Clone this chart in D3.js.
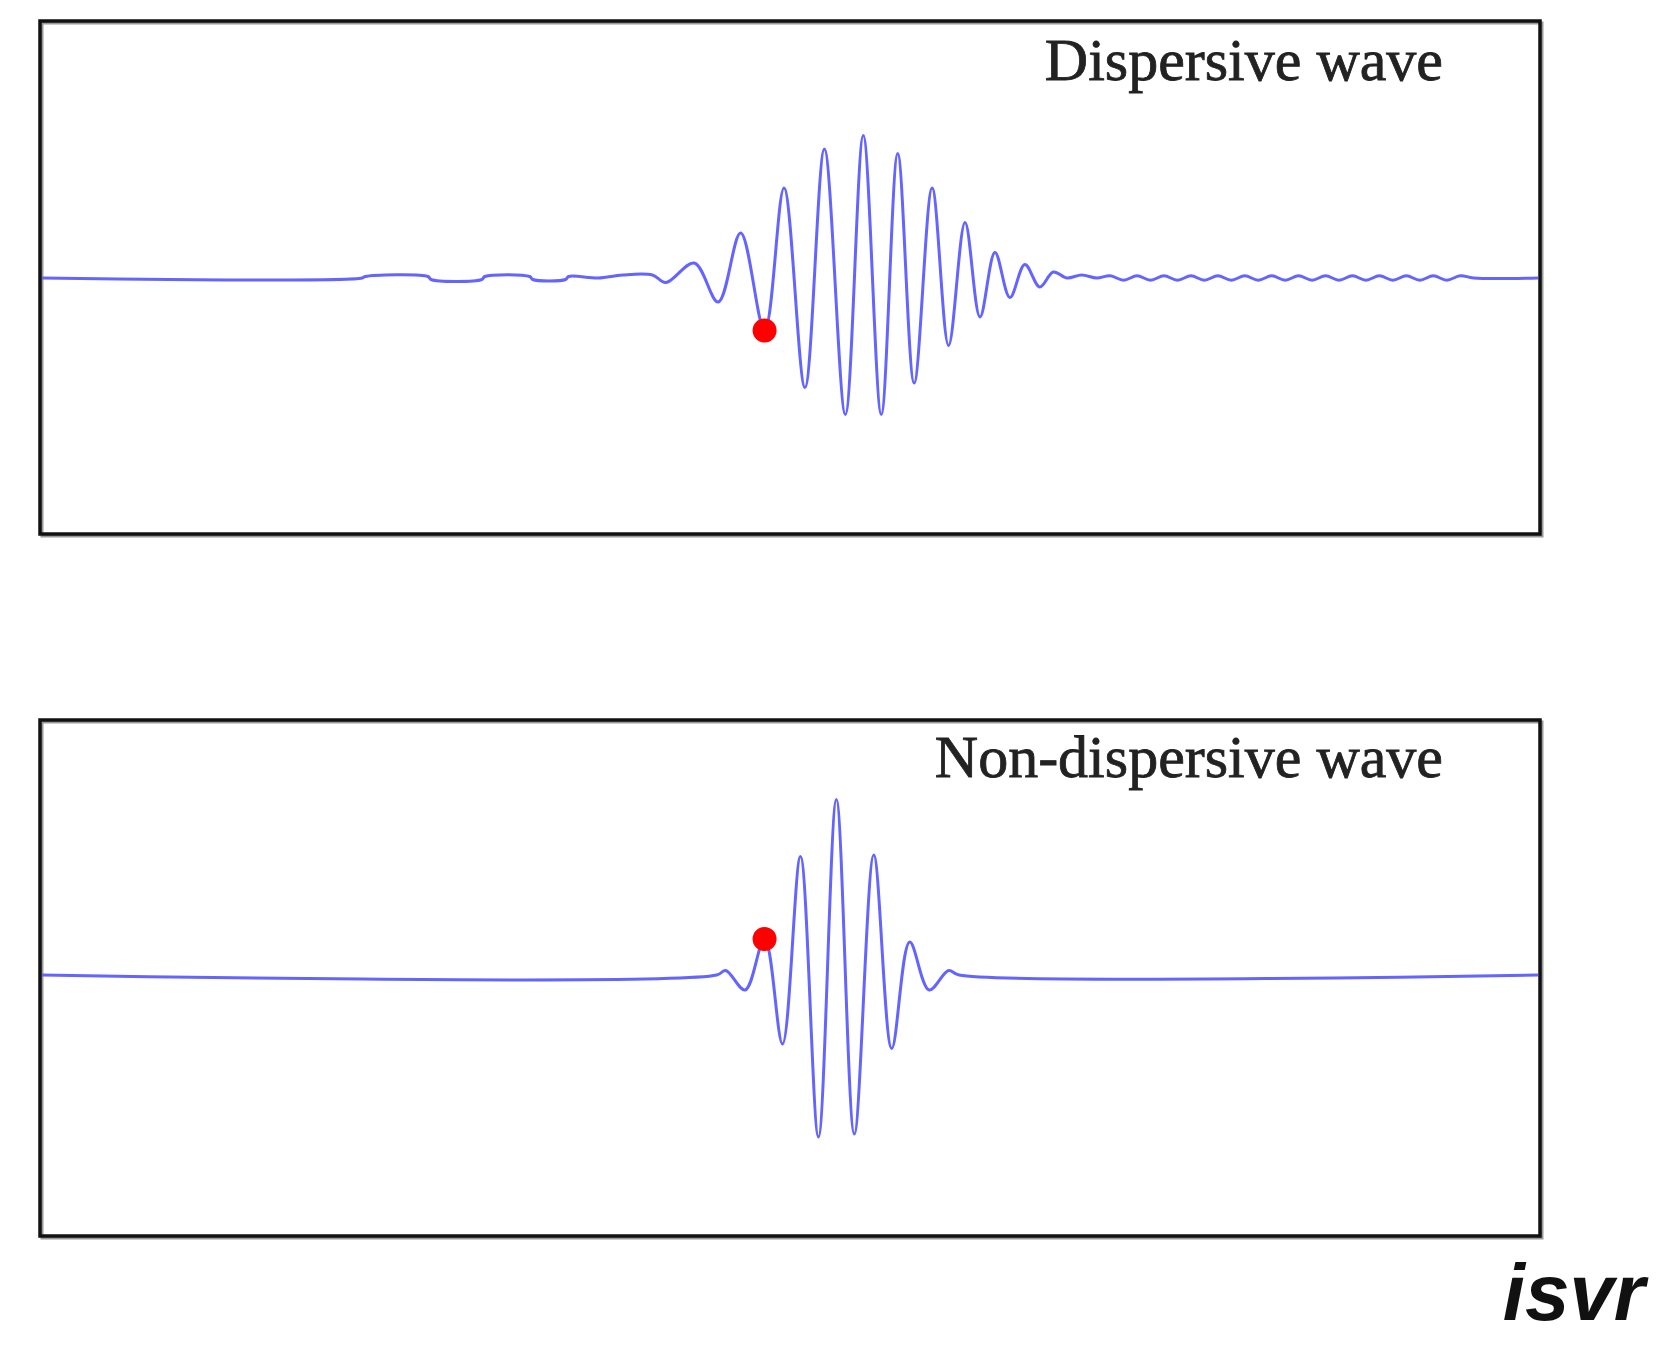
<!DOCTYPE html>
<html>
<head>
<meta charset="utf-8">
<script src="https://cdn.jsdelivr.net/npm/d3@7"></script>
<style>
  body { margin: 0; background: #fff; }
  svg { display: block; }
</style>
</head>
<body>
<svg id="chart" width="1665" height="1349"></svg>
<script>
// wave samples: time (0..100 across the panel) and amplitude (-1..1-ish)
const dispersiveT = [0, 21.4, 21.6, 25.8, 26, 29.4, 29.6, 32.6, 32.8, 35, 35.2, 37.2,
  38.8, 40.8, 41.7, 43.6, 45.2, 46.7, 48.3, 49.6, 51.0, 52.3, 53.7, 54.9, 56.1, 57.2,
  58.3, 59.5, 60.6, 61.7, 62.7, 63.7, 64.7, 65.7, 66.7, 67.6, 68.5, 69.5, 70.5,
  71.4, 72.3, 73.2, 74.1, 75, 75.9, 76.8, 77.7, 78.6, 79.5, 80.4, 81.3, 82.2, 83.1,
  84, 84.9, 85.8, 86.7, 87.6, 88.5, 89.4, 90.3, 91.2, 92.1, 93, 93.9, 94.8, 95.7, 100];
const dispersiveA = [0, 0, 0.01, 0.01, -0.01, -0.01, 0.01, 0.01, -0.01, -0.01, 0.01, 0,
  0.02, 0.02, -0.03, 0.1, -0.16, 0.3, -0.35, 0.6, -0.73, 0.86, -0.91, 0.95, -0.91, 0.83,
  -0.7, 0.6, -0.45, 0.37, -0.26, 0.17, -0.13, 0.09, -0.06, 0.04, 0, 0.02, 0,
  0.015, -0.015, 0.015, -0.015, 0.015, -0.015, 0.015, -0.015, 0.015, -0.015, 0.015, -0.015, 0.015, -0.015,
  0.015, -0.015, 0.015, -0.015, 0.015, -0.015, 0.015, -0.015, 0.015, -0.015, 0.015, -0.015, 0.015, 0, 0];
const nonDispT = [0, 45.1, 45.7, 47.0, 48.3, 49.5, 50.7, 51.9, 53.1, 54.3, 55.6, 56.8, 58.0, 59.3, 60.6, 61.3, 100];
const nonDispA = [0, 0, 0.03, -0.1, 0.24, -0.46, 0.79, -1.08, 1.17, -1.06, 0.8, -0.49, 0.22, -0.1, 0.03, 0, 0];
const markerT = [48.3, 48.3];
const markerA = [-0.35, 0.24];
const titles = ['Dispersive wave', 'Non-dispersive wave'];

const svg = d3.select('#chart');
const panels = [
  {top: 21, bottom: 534, zero: 278, titleY: 80, t: dispersiveT, a: dispersiveA},
  {top: 720, bottom: 1236, zero: 975, titleY: 777, t: nonDispT, a: nonDispA}
];
const left = 40, right = 1540;
const x = d3.scaleLinear().domain([0, 100]).range([left + 2, right - 2]);

panels.forEach((p, i) => {
  const y = d3.scaleLinear().domain([-1, 1]).range([p.zero + 150, p.zero - 150]);
  const g = svg.append('g');

  // shadowed frame
  g.append('rect')
    .attr('x', left + 2).attr('y', p.top + 2)
    .attr('width', right - left).attr('height', p.bottom - p.top)
    .attr('fill', 'none').attr('stroke', '#999').attr('stroke-width', 3);
  g.append('rect')
    .attr('x', left).attr('y', p.top)
    .attr('width', right - left).attr('height', p.bottom - p.top)
    .attr('fill', 'none').attr('stroke', '#111').attr('stroke-width', 3.5);

  const pts = p.t.map((t, k) => [t, p.a[k]]);
  const line = d3.line()
    .x(d => x(d[0])).y(d => y(d[1]))
    .curve(d3.curveCatmullRom.alpha(0.5));
  g.append('path')
    .attr('d', line(pts))
    .attr('fill', 'none')
    .attr('stroke', '#6464ff')
    .attr('stroke-width', 3);

  g.append('circle')
    .attr('cx', x(markerT[i])).attr('cy', y(markerA[i]))
    .attr('r', 12).attr('fill', '#ff0000');

  g.append('text')
    .attr('x', 1443).attr('y', p.titleY)
    .attr('text-anchor', 'end')
    .style('font-family', '"Liberation Serif", serif')
    .style('font-size', '60px')
    .attr('stroke', '#222').attr('stroke-width', 0.8)
    .attr('fill', '#222')
    .text(titles[i]);
});

svg.append('text')
  .attr('x', 1645).attr('y', 1320)
  .attr('text-anchor', 'end')
  .style('font-family', '"Liberation Sans", Arial, sans-serif')
  .style('font-size', '80px')
  .style('font-weight', 'bold')
  .style('font-style', 'italic')
  .attr('fill', '#111')
  .text('isvr');
</script>
</body>
</html>
